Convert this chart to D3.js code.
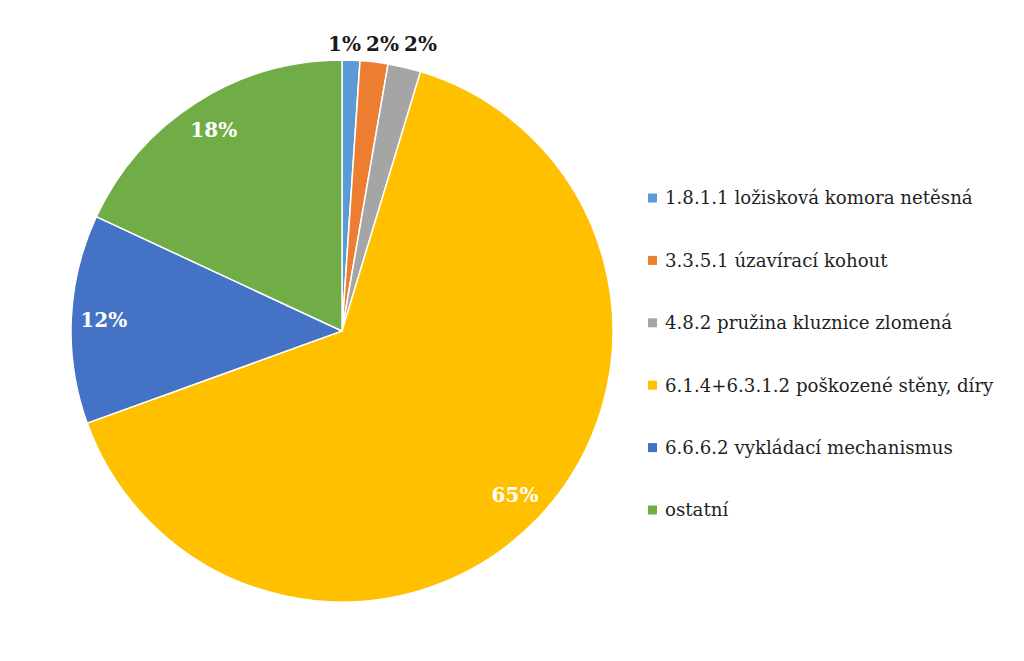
<!DOCTYPE html>
<html><head><meta charset="utf-8">
<script src="https://cdn.jsdelivr.net/npm/d3@7"></script>
<style>html,body{margin:0;padding:0;background:#fff;}</style>
</head><body>
<svg id="chart" width="1024" height="661"></svg>
<script>
const categories = ["1.8.1.1 ložisková komora netěsná","3.3.5.1 úzavírací kohout","4.8.2 pružina kluznice zlomená","6.1.4+6.3.1.2 poškozené stěny, díry","6.6.6.2 vykládací mechanismus","ostatní"];
const values = [1.06, 1.66, 1.96, 64.8, 12.45, 18.07];
const labels = ["1%","2%","2%","65%","12%","18%"];
const colors = ["#5B9BD5","#ED7D31","#A5A5A5","#FFC000","#4472C4","#70AD47"];
const labelOutside = [true,true,true,false,false,false];

const svg = d3.select("#chart");
const cx = 342, cy = 331, r = 271;
const font = "'DejaVu Serif', serif";

const pie = d3.pie().sort(null).value(d => d)(values);
const arc = d3.arc().innerRadius(0).outerRadius(r);
const g = svg.append("g").attr("transform", `translate(${cx},${cy})`);
g.selectAll("path").data(pie).join("path")
  .attr("d", arc).attr("fill", (d,i) => colors[i])
  .attr("stroke", "#fff").attr("stroke-width", 1.5);

// inside labels
const inArc = d3.arc().innerRadius(r*0.88).outerRadius(r*0.88);
pie.forEach((d,i) => {
  if (labelOutside[i]) return;
  const [x,y] = inArc.centroid(d);
  g.append("text").attr("x", x).attr("y", y).attr("dy","0.35em")
    .attr("text-anchor","middle").attr("font-family", font)
    .attr("font-weight","bold").attr("font-size", 20).attr("fill","#fff")
    .text(labels[i]);
});
// outside labels, spread horizontally to avoid overlap
const outIdx = pie.map((d,i)=>i).filter(i=>labelOutside[i]);
const outR = r + 16;
let pos = outIdx.map(i => {
  const a = (pie[i].startAngle + pie[i].endAngle)/2;
  return {i, x: outR*Math.sin(a), y: -outR*Math.cos(a)};
});
const gap = 38;
const mean = d3.mean(pos, p=>p.x);
const yTop = d3.min(pos, p=>p.y);
pos.forEach((p,k) => { p.x = mean + 4 + (k - (pos.length-1)/2)*gap; p.y = yTop; });
pos.forEach(p => {
  g.append("text").attr("x", p.x).attr("y", p.y).attr("dy","0.35em")
    .attr("text-anchor","middle").attr("font-family", font)
    .attr("font-weight","bold").attr("font-size", 20).attr("fill","#1a1a1a")
    .text(labels[p.i]);
});

// legend
const ly = d3.scalePoint().domain(categories).range([198, 510]);
const lg = svg.append("g");
categories.forEach((c,i) => {
  lg.append("rect").attr("x", 648).attr("y", ly(c)-4.5).attr("width", 9).attr("height", 9).attr("fill", colors[i]);
  lg.append("text").attr("x", 665).attr("y", ly(c)).attr("dy","0.35em")
    .attr("font-family", font).attr("font-size", 18.2).attr("fill","#1f1f1f").text(c);
});
</script>
</body></html>
